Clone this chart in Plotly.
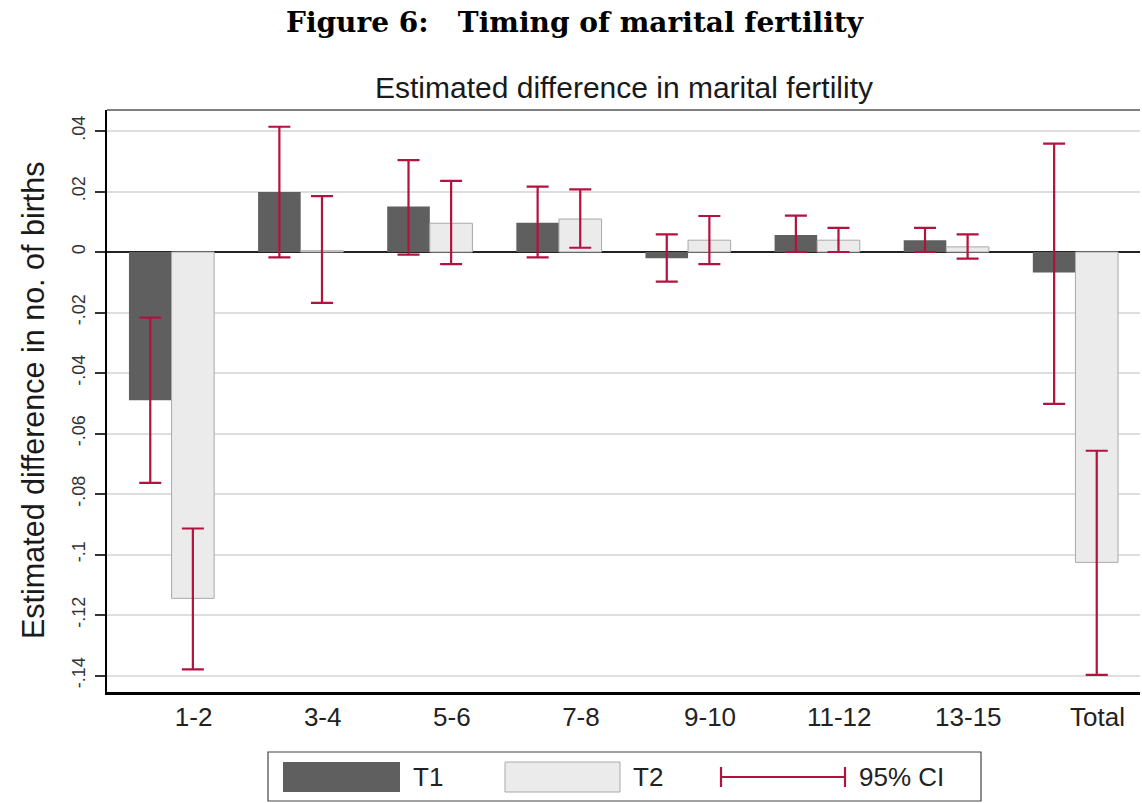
import plotly.graph_objects as go

# ---------------- data ----------------
categories = ["1-2", "3-4", "5-6", "7-8", "9-10", "11-12", "13-15", "Total"]

t1_values = [-0.0490, 0.0198, 0.0150, 0.0097, -0.0021, 0.0056, 0.0039, -0.0068]
t1_ci_low = [-0.0763, -0.0018, -0.0009, -0.0018, -0.0098, 0.0000, 0.0000, -0.0502]
t1_ci_high = [-0.0217, 0.0414, 0.0304, 0.0216, 0.0058, 0.0120, 0.0080, 0.0358]

t2_values = [-0.1145, 0.0004, 0.0095, 0.0109, 0.0039, 0.0039, 0.0017, -0.1026]
t2_ci_low = [-0.1380, -0.0168, -0.0040, 0.0014, -0.0040, 0.0000, -0.0022, -0.1398]
t2_ci_high = [-0.0914, 0.0185, 0.0235, 0.0207, 0.0119, 0.0080, 0.0058, -0.0657]

y_tick_values = [0.04, 0.02, 0, -0.02, -0.04, -0.06, -0.08, -0.10, -0.12, -0.14]
y_tick_labels = [".04", ".02", "0", "-.02", "-.04", "-.06", "-.08", "-.1", "-.12", "-.14"]

# ---------------- style ----------------
W, H = 1142, 803
ML, MR, MT, MB = 107, 2, 110, 111
PW, PH = W - ML - MR, H - MT - MB

CI_COLOR = "#B3123F"
T1_COLOR = "#5f5f5f"
T2_COLOR = "#ebebeb"
SANS = "Liberation Sans, Arial, sans-serif"
SERIF = "DejaVu Serif, serif"


def px(x):
    return (x - ML) / PW


def py(y):
    return (H - MB - y) / PH


def err(vals, lo, hi):
    return dict(
        type="data",
        array=[h - v for v, h in zip(vals, hi)],
        arrayminus=[v - l for v, l in zip(vals, lo)],
        color=CI_COLOR,
        thickness=2.2,
        width=11,
        symmetric=False,
    )


fig = go.Figure()
fig.add_trace(go.Bar(
    name="T1", x=categories, y=t1_values,
    marker=dict(color=T1_COLOR, line=dict(color=T1_COLOR, width=0)),
    error_y=err(t1_values, t1_ci_low, t1_ci_high),
    showlegend=False,
))
fig.add_trace(go.Bar(
    name="T2", x=categories, y=t2_values,
    marker=dict(color=T2_COLOR, line=dict(color="#a9a9a9", width=1)),
    error_y=err(t2_values, t2_ci_low, t2_ci_high),
    showlegend=False,
))

fig.update_layout(
    width=W, height=H,
    margin=dict(l=ML, r=MR, t=MT, b=MB, pad=0),
    paper_bgcolor="white", plot_bgcolor="white",
    barmode="group", bargap=0.34, bargroupgap=0,
    font=dict(family=SANS, color="#222"),
    showlegend=False,
)

fig.update_xaxes(
    type="category", range=[-0.5, 7.5],
    showline=True, linecolor="black", linewidth=2.5,
    ticks="", showgrid=False,
    tickfont=dict(size=26, color="#222", family=SANS),
    ticklabelshift=22, ticklabelstandoff=0,
)
fig.update_yaxes(
    range=[-0.14545, 0.04694],
    tickvals=y_tick_values, ticktext=y_tick_labels,
    tickangle=-90,
    tickfont=dict(size=18, color="#333", family=SANS),
    ticks="outside", ticklen=10, tickwidth=1.5, tickcolor="#333",
    ticklabelstandoff=3,
    showline=True, linecolor="black", linewidth=2,
    showgrid=True, gridcolor="#dedede", gridwidth=1.5,
    zeroline=True, zerolinecolor="#222", zerolinewidth=2,
)

shapes = []
annotations = []

# top frame line
shapes.append(dict(type="line", xref="paper", yref="paper", x0=0, x1=1, y0=1, y1=1,
                   line=dict(color="#555", width=1.5)))

# titles
annotations.append(dict(
    text="Figure 6:\u00a0\u00a0\u00a0Timing of marital fertility",
    xref="paper", yref="paper", x=px(575), y=py(22), xanchor="center", yanchor="middle",
    showarrow=False, font=dict(family=SERIF, size=28, color="black", weight="bold"),
))
annotations.append(dict(
    text="Estimated difference in marital fertility",
    xref="paper", yref="paper", x=px(624), y=py(88), xanchor="center", yanchor="middle",
    showarrow=False, font=dict(family=SANS, size=30, color="#1a1a1a"),
))
annotations.append(dict(
    text="Estimated difference in no. of births",
    xref="paper", yref="paper", x=px(33), y=py(400), xanchor="center", yanchor="middle",
    textangle=-90, showarrow=False, font=dict(family=SANS, size=30.5, color="#1a1a1a"),
))

# legend box (drawn manually to match wide swatches)
shapes.append(dict(type="rect", xref="paper", yref="paper",
                   x0=px(268), x1=px(981), y0=py(752), y1=py(801),
                   line=dict(color="#444", width=1.2), fillcolor="white"))
shapes.append(dict(type="rect", xref="paper", yref="paper",
                   x0=px(283), x1=px(400), y0=py(762), y1=py(792),
                   line=dict(color=T1_COLOR, width=0), fillcolor=T1_COLOR))
shapes.append(dict(type="rect", xref="paper", yref="paper",
                   x0=px(505), x1=px(620), y0=py(762), y1=py(792),
                   line=dict(color="#a9a9a9", width=1), fillcolor=T2_COLOR))
shapes.append(dict(type="line", xref="paper", yref="paper",
                   x0=px(721), x1=px(845), y0=py(777), y1=py(777),
                   line=dict(color=CI_COLOR, width=2.2)))
for xc in (721, 845):
    shapes.append(dict(type="line", xref="paper", yref="paper",
                       x0=px(xc), x1=px(xc), y0=py(767), y1=py(787),
                       line=dict(color=CI_COLOR, width=2.2)))
for label, xl in (("T1", 411), ("T2", 631), ("95% CI", 857)):
    annotations.append(dict(
        text=label, xref="paper", yref="paper", x=px(xl), y=py(777),
        xanchor="left", yanchor="middle", showarrow=False,
        font=dict(family=SANS, size=26, color="#222"),
    ))

fig.update_layout(shapes=shapes, annotations=annotations)

fig.write_html("out.html", config={"displayModeBar": False},
               post_script="document.body.style.margin='0';document.body.style.overflow='hidden';")
